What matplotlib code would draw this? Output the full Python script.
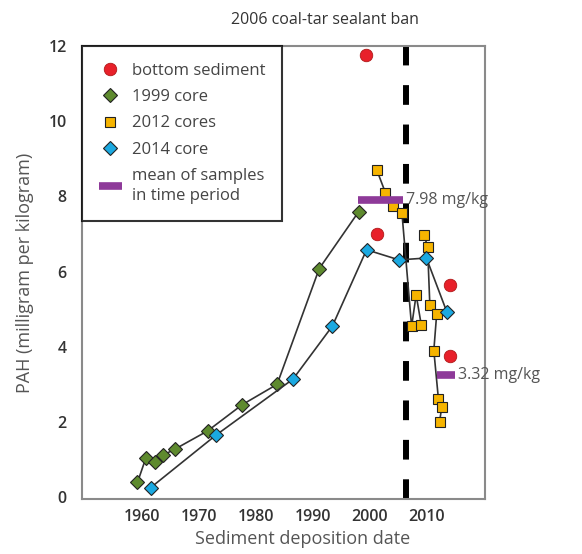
import matplotlib.pyplot as plt
from matplotlib.lines import Line2D

plt.rcParams['font.family'] = ['Open Sans', 'DejaVu Sans']

# bottom sediment samples
sed_year = [1999.3, 2001.3, 2014.0, 2014.0]
sed_pah = [11.77, 6.99, 5.64, 3.75]

# 1999 core
c99_year = [1959.2, 1960.7, 1962.3, 1963.6, 1965.7, 1971.5, 1977.6, 1983.7, 1991.1, 1998.0]
c99_pah = [0.39, 1.05, 0.93, 1.11, 1.27, 1.76, 2.46, 3.00, 6.08, 7.59]

# 2012 cores (two cores)
c12a_year = [2001.2, 2002.7, 2004.0, 2005.6, 2007.3, 2008.1, 2009.0]
c12a_pah = [8.70, 8.10, 7.75, 7.57, 4.54, 5.38, 4.58]
c12b_year = [2009.5, 2010.1, 2010.5, 2011.7, 2011.2, 2012.0, 2012.6, 2012.2]
c12b_pah = [6.97, 6.66, 5.12, 4.87, 3.90, 2.62, 2.40, 2.00]

# 2014 core
c14_year = [1961.5, 1972.9, 1986.5, 1993.4, 1999.4, 2005.1, 2009.9, 2013.5]
c14_pah = [0.25, 1.64, 3.14, 4.55, 6.58, 6.31, 6.36, 4.92]

# means of samples in time period
mean_start = [1997.9, 2011.7]
mean_end = [2005.8, 2014.9]
mean_val = [7.98, 3.32]
mean_text = ['7.98 mg/kg', '3.32 mg/kg']

ban_year = 2006.3

red = '#E8202A'
green = '#5E8A2E'
orange = '#F6B400'
blue = '#1BA9E1'
purple = '#8E3A99'
line_c = '#333333'

fig = plt.figure(figsize=(5.82, 5.54), dpi=100)
ax = fig.add_axes([82/582, 1-499/554, (485-82)/582, (499-46)/554])

ax.axvline(ban_year, color='black', lw=4.3, dashes=(3.3, 3.3), zorder=1)

ax.plot(c99_year, c99_pah, color=line_c, lw=1.2, marker='D', ms=7.5, mfc=green, mec='#222', mew=0.8, zorder=3)
ax.plot(c14_year, c14_pah, color=line_c, lw=1.2, marker='D', ms=7.5, mfc=blue, mec='#222', mew=0.8, zorder=4)
ax.plot(c12a_year, c12a_pah, color=line_c, lw=1.2, marker='s', ms=7, mfc=orange, mec='#222', mew=0.8, zorder=2)
ax.plot(c12b_year, c12b_pah, color=line_c, lw=1.2, marker='s', ms=7, mfc=orange, mec='#222', mew=0.8, zorder=2)
ax.plot(sed_year, sed_pah, ls='none', marker='o', ms=9, mfc=red, mec='#b01818', mew=0.6, zorder=5)

for s, e, v, t in zip(mean_start, mean_end, mean_val, mean_text):
    ax.plot([s, e], [v - 0.08, v - 0.08], color=purple, lw=5.5, solid_capstyle='butt', zorder=6)
    ax.text(e + 0.6, v - 0.08, t, fontsize=11.5, color='#555555', va='center', ha='left', clip_on=False)

ax.set_xlim(1949.47, 2020.18)
ax.set_ylim(-0.05, 12.0)
ax.set_xticks([1960, 1970, 1980, 1990, 2000, 2010])
ax.set_yticks([0, 2, 4, 6, 8, 10, 12])
ax.tick_params(length=0, labelsize=11.5, labelcolor='#333333')
ax.tick_params(axis='x', pad=7)
ax.tick_params(axis='y', pad=11)
for lab in ax.get_xticklabels() + ax.get_yticklabels():
    lab.set_fontweight('semibold')

for sp in ax.spines.values():
    sp.set_color('#8a8a8a')
    sp.set_linewidth(1.5)

ax.set_xlabel('Sediment deposition date', fontsize=13, color='#555555')
ax.xaxis.set_label_coords((303 - 82) / 403, -(530 - 499) / 453)
ax.set_ylabel('PAH (milligram per kilogram)', fontsize=13, color='#555555', labelpad=10)
fig.text(325/582, 1-20/554, '2006 coal-tar sealant ban', fontsize=11.5, color='#333333', ha='center', va='center')

handles = [
    Line2D([], [], ls='none', marker='o', ms=9, mfc=red, mec='#b01818', mew=0.6),
    Line2D([], [], ls='none', marker='D', ms=7.5, mfc=green, mec='#222', mew=0.8),
    Line2D([], [], ls='none', marker='s', ms=7, mfc=orange, mec='#222', mew=0.8),
    Line2D([], [], ls='none', marker='D', ms=7.5, mfc=blue, mec='#222', mew=0.8),
    Line2D([], [], color=purple, lw=5.5, solid_capstyle='butt'),
]
labels = ['bottom sediment', '1999 core', '2012 cores', '2014 core', 'mean of samples\nin time period']
leg = ax.legend(handles, labels, loc='upper left', bbox_to_anchor=(0, 1), borderaxespad=0,
                fontsize=12, labelcolor='#444444', frameon=True, fancybox=False,
                edgecolor='black', handlelength=1.4, handletextpad=0.6, labelspacing=0.62,
                borderpad=1.0)
for t in leg.get_texts():
    t.set_linespacing(1.35)
leg.get_frame().set_linewidth(1.5)
leg.set_zorder(10)

fig.savefig('out.png', dpi=100)
